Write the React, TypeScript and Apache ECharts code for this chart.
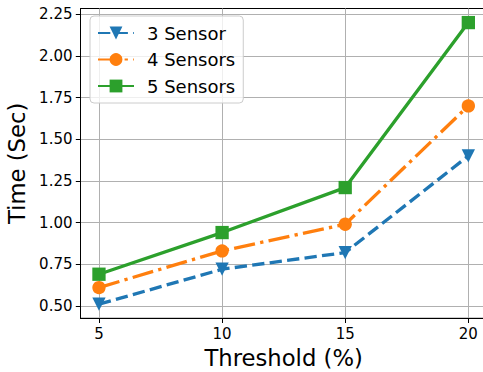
import React, { useEffect, useRef } from "react";
import * as echarts from "echarts";

const thresholds = [5, 10, 15, 20];
const sensor3 = [0.51, 0.72, 0.82, 1.4];
const sensor4 = [0.61, 0.83, 0.99, 1.7];
const sensor5 = [0.69, 0.94, 1.21, 2.2];
const seriesNames = ["3 Sensor", "4 Sensors", "5 Sensors"];
const yTicks = [0.5, 0.75, 1.0, 1.25, 1.5, 1.75, 2.0, 2.25];
const xTicks = [5, 10, 15, 20];

const FONT = "DejaVu Sans";
const LW = 3.33;

export default function App() {
  const ref = useRef<HTMLDivElement>(null);
  useEffect(() => {
    if (!ref.current) return;
    const chart = echarts.init(ref.current, undefined, { renderer: "svg" });
    const pairs = (vals: number[]) => thresholds.map((t, i) => [t, vals[i]]);
    chart.setOption({
      animation: false,
      backgroundColor: "#fff",
      textStyle: { fontFamily: FONT },
      grid: {
        left: 80.5,
        right: -3.8,
        top: 8.5,
        bottom: 53.7,
        containLabel: false,
        outerBoundsMode: "none",
        show: true,
        borderColor: "#000",
        borderWidth: 1,
        backgroundColor: "transparent",
      },
      legend: {
        left: 90,
        top: 16,
        orient: "vertical",
        padding: [8, 8, 8, 7],
        itemWidth: 36,
        itemHeight: 16,
        itemGap: 8.5,
        borderColor: "#cccccc",
        borderWidth: 1,
        borderRadius: 4,
        backgroundColor: "rgba(255,255,255,0.8)",
        textStyle: {
          fontFamily: FONT,
          fontSize: 18,
          lineHeight: 18,
          color: "#000",
          padding: [0, 0, 0, 8],
        },
        data: seriesNames,
      },
      xAxis: {
        type: "value",
        min: 4.25,
        max: 20.75,
        name: "Threshold (%)",
        nameLocation: "middle",
        nameGap: 25,
        nameTextStyle: { fontFamily: FONT, fontSize: 22.7, color: "#000" },
        axisLine: { show: true, lineStyle: { color: "#000", width: 1 } },
        axisTick: {
          show: true,
          inside: false,
          length: 4.7,
          lineStyle: { color: "#000", width: 1 },
          customValues: xTicks,
        },
        axisLabel: {
          fontFamily: FONT,
          fontSize: 15,
          color: "#000",
          margin: 8,
          customValues: xTicks,
          formatter: (v: number) => String(v),
        },
        splitLine: { show: true, lineStyle: { color: "#b0b0b0", width: 1 } },
      },
      yAxis: {
        type: "value",
        min: 0.4255,
        max: 2.2845,
        name: "Time (Sec)",
        nameLocation: "middle",
        nameGap: 44,
        nameTextStyle: { fontFamily: FONT, fontSize: 22.7, color: "#000" },
        axisLine: { show: true, lineStyle: { color: "#000", width: 1 } },
        axisTick: {
          show: true,
          inside: false,
          length: 4.7,
          lineStyle: { color: "#000", width: 1 },
          customValues: yTicks,
        },
        axisLabel: {
          fontFamily: FONT,
          fontSize: 15,
          color: "#000",
          margin: 8,
          customValues: yTicks,
          formatter: (v: number) => v.toFixed(2),
        },
        splitLine: { show: true, lineStyle: { color: "#b0b0b0", width: 1 } },
      },
      series: [
        {
          name: seriesNames[0],
          type: "line",
          data: pairs(sensor3),
          symbol: "triangle",
          symbolRotate: 180,
          symbolSize: 13.3,
          itemStyle: { color: "#1f77b4" },
          lineStyle: { color: "#1f77b4", width: LW, type: [12.3, 5.3] },
          z: 2,
        },
        {
          name: seriesNames[1],
          type: "line",
          data: pairs(sensor4),
          symbol: "circle",
          symbolSize: 13.3,
          itemStyle: { color: "#ff7f0e" },
          lineStyle: { color: "#ff7f0e", width: LW, type: [21.3, 5.3, 3.3, 5.3] },
          z: 3,
        },
        {
          name: seriesNames[2],
          type: "line",
          data: pairs(sensor5),
          symbol: "rect",
          symbolSize: 13.3,
          itemStyle: { color: "#2ca02c" },
          lineStyle: { color: "#2ca02c", width: LW, type: "solid" },
          z: 4,
        },
      ],
    });
    return () => chart.dispose();
  }, []);
  return (
    <div
      ref={ref}
      style={{ position: "absolute", left: 0, top: 0, width: 483, height: 372, overflow: "hidden" }}
    />
  );
}
